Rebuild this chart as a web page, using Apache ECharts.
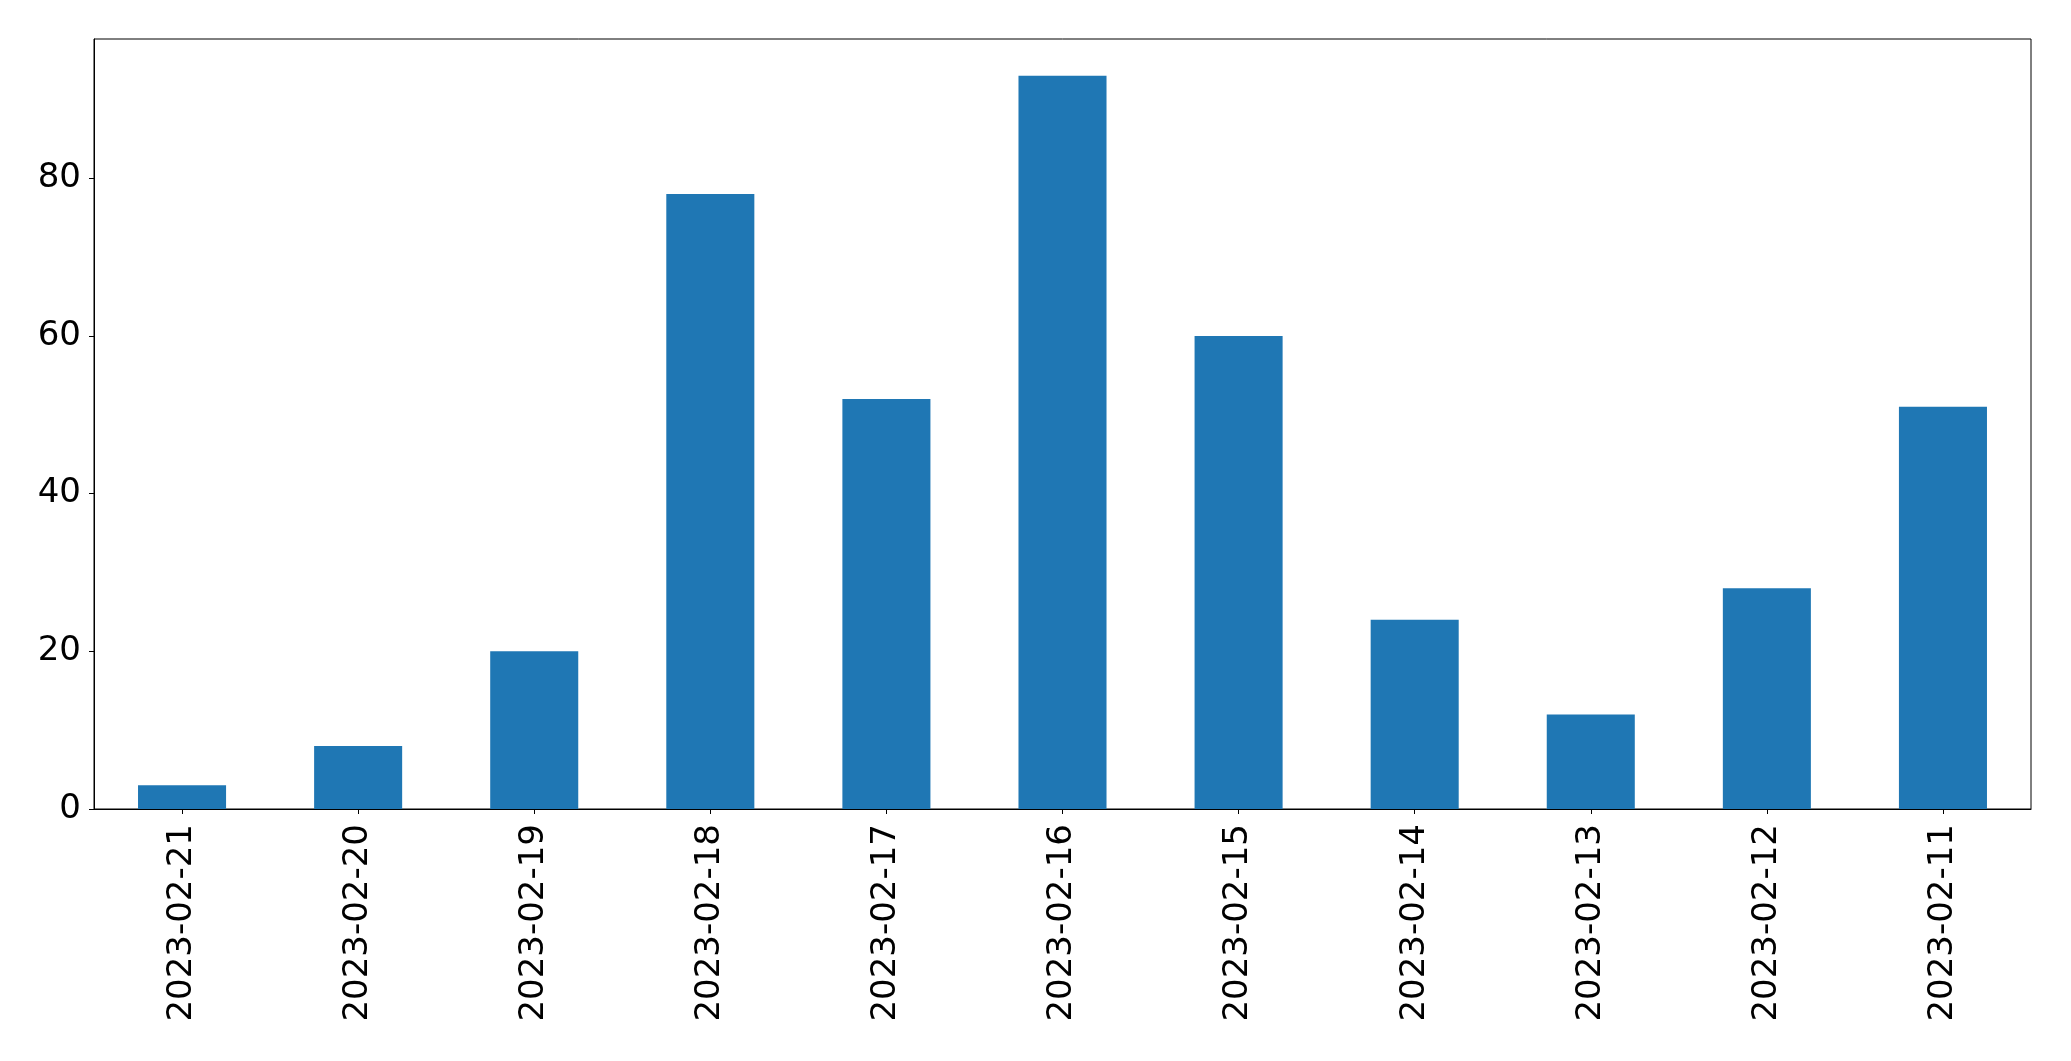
<!DOCTYPE html>
<html>
<head>
<meta charset="utf-8">
<script src="https://cdn.jsdelivr.net/npm/echarts@6/dist/echarts.min.js"></script>
<style>
html,body{margin:0;padding:0;background:#fff;}
#chart{width:2071px;height:1061px;}
</style>
</head>
<body>
<div id="chart"></div>
<script>
var categories = ["2023-02-21","2023-02-20","2023-02-19","2023-02-18","2023-02-17","2023-02-16","2023-02-15","2023-02-14","2023-02-13","2023-02-12","2023-02-11"];
var values = [3, 8, 20, 78, 52, 93, 60, 24, 12, 28, 51];
var yTicks = [0, 20, 40, 60, 80];

var chart = echarts.init(document.getElementById('chart'), null, {renderer: 'canvas'});
var font = 'DejaVu Sans';
chart.setOption({
  animation: false,
  backgroundColor: '#ffffff',
  grid: {
    left: 94, top: 39, right: 40, bottom: 252,
    show: true, borderColor: '#000000', borderWidth: 1, backgroundColor: 'transparent',
    containLabel: false
  },
  xAxis: {
    type: 'category',
    data: categories,
    boundaryGap: true,
    axisLine: {show: true, lineStyle: {color: '#000', width: 1}},
    axisTick: {show: true, alignWithLabel: true, inside: false, length: 5, lineStyle: {color: '#000', width: 1}},
    axisLabel: {rotate: 90, margin: 15, fontSize: 34, fontFamily: font, color: '#000', interval: 0},
    splitLine: {show: false}
  },
  yAxis: {
    type: 'value',
    min: 0,
    max: 97.65,
    interval: 20,
    axisLine: {show: true, lineStyle: {color: '#000', width: 1}},
    axisTick: {show: true, inside: false, length: 5, customValues: yTicks, lineStyle: {color: '#000', width: 1}},
    axisLabel: {margin: 13, fontSize: 34, fontFamily: font, color: '#000', customValues: yTicks},
    splitLine: {show: false}
  },
  series: [{
    type: 'bar',
    data: values,
    barWidth: '50%',
    itemStyle: {color: '#1f77b4'}
  }]
});
</script>
</body>
</html>
